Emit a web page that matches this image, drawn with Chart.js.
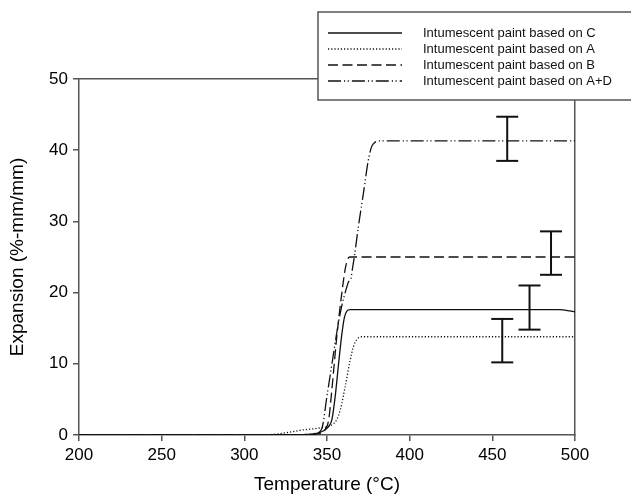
<!DOCTYPE html>
<html>
<head>
<meta charset="utf-8">
<script src="https://cdn.jsdelivr.net/npm/chart.js@4"></script>
<style>
  html, body { margin: 0; padding: 0; background: #fff; }
</style>
</head>
<body>
<canvas id="chart" width="631" height="494"></canvas>
<script>
const seriesLabels = [
  'Intumescent paint based on C',
  'Intumescent paint based on A',
  'Intumescent paint based on B',
  'Intumescent paint based on A+D'
];

// temperature (°C) / expansion (%-mm/mm)
const tempC = [200, 300, 330, 343, 348, 351, 353, 355, 357, 359, 360.5, 362, 364, 480, 490, 500];
const expC  = [0, 0, 0.05, 0.2, 0.6, 1.2, 2.2, 5.5, 10, 14.2, 16.5, 17.4, 17.6, 17.6, 17.6, 17.3];

const tempA = [200, 300, 315, 325, 335, 346, 352, 356, 358, 361, 364, 366, 368, 371, 500];
const expA  = [0, 0, 0.05, 0.3, 0.7, 1.0, 1.3, 2.2, 3.5, 6.8, 10.5, 12.4, 13.4, 13.8, 13.8];

const tempB = [200, 330, 345, 349, 351, 353, 356, 359, 361, 362.5, 364, 500];
const expB  = [0, 0, 0.2, 0.8, 2.1, 6.5, 14, 20, 23.3, 24.7, 25, 25];

const tempAD = [200, 330, 344, 347, 350, 353, 356, 359, 361, 363, 364.5, 365.5, 366.5, 369, 372, 375, 377, 379, 382, 500];
const expAD  = [0, 0, 0.3, 1, 5.5, 10, 14.5, 18.2, 20, 21.5, 22, 23.5, 25, 29.3, 33.9, 38.6, 40.5, 41.1, 41.3, 41.3];

// error bars (A, A+D, C, B)
const errT  = [456, 459, 472.5, 485.5];
const errLo = [10.2, 38.5, 14.8, 22.5];
const errHi = [16.3, 44.7, 21.0, 28.6];

const xTicks = [200, 250, 300, 350, 400, 450, 500];
const yTicks = [0, 10, 20, 30, 40, 50];

const pts = (xs, ys) => xs.map((x, i) => ({ x: x, y: ys[i] }));
const axisCol = '#555';
const font = 'Liberation Sans, Arial, Helvetica, sans-serif';

const lineStyle = (label, data, dash) => ({
  type: 'line', label: label, data: data, borderColor: '#111', borderWidth: 1.3,
  borderDash: dash, pointRadius: 0, cubicInterpolationMode: 'monotone', fill: false, isSeries: true
});

const stems = [];
errT.forEach((t, i) => { stems.push({ x: t, y: errLo[i] }, { x: t, y: errHi[i] }, { x: t, y: null }); });
const caps = [];
errT.forEach((t, i) => { caps.push({ x: t, y: errLo[i] }, { x: t, y: errHi[i] }); });

// boxed legend drawn over the top-right corner
const boxLegend = {
  id: 'boxLegend',
  afterDraw(chart) {
    const ctx = chart.ctx;
    ctx.save();
    ctx.fillStyle = '#fff';
    ctx.fillRect(318, 12, 330, 88);
    ctx.strokeStyle = axisCol; ctx.lineWidth = 1.5;
    ctx.strokeRect(318, 12, 330, 88);
    const sets = chart.data.datasets.filter(d => d.isSeries);
    sets.forEach((d, i) => {
      const y = 33 + i * 16;
      ctx.strokeStyle = '#111'; ctx.lineWidth = d.borderWidth;
      ctx.setLineDash(d.borderDash || []);
      ctx.beginPath(); ctx.moveTo(328, y); ctx.lineTo(402, y); ctx.stroke();
      ctx.setLineDash([]);
      ctx.fillStyle = '#111'; ctx.font = '13px ' + font;
      ctx.textBaseline = 'middle'; ctx.textAlign = 'left';
      ctx.fillText(d.label, 423, y);
    });
    ctx.restore();
  }
};

new Chart(document.getElementById('chart'), {
  type: 'line',
  data: {
    datasets: [
      lineStyle(seriesLabels[0], pts(tempC, expC), []),
      lineStyle(seriesLabels[1], pts(tempA, expA), [1.2, 2]),
      lineStyle(seriesLabels[2], pts(tempB, expB), [10, 4.5]),
      lineStyle(seriesLabels[3], pts(tempAD, expAD), [13, 3, 1.2, 2.5, 1.2, 3]),
      { type: 'line', data: stems, borderColor: '#111', borderWidth: 2, pointRadius: 0, spanGaps: false },
      { type: 'scatter', data: caps, pointStyle: 'line', pointRadius: 11, borderColor: '#111', borderWidth: 2 }
    ]
  },
  options: {
    responsive: false, animation: false,
    layout: { padding: { top: 79, right: 56, left: 0, bottom: 0 } },
    plugins: { legend: { display: false }, tooltip: { enabled: false } },
    scales: {
      x: {
        type: 'linear', position: 'bottom', min: 200, max: 500,
        afterBuildTicks: s => { s.ticks = xTicks.map(v => ({ value: v })); },
        afterFit: s => { s.height = 59; },
        ticks: { color: '#000', font: { family: font, size: 17 }, padding: 4 },
        grid: { drawOnChartArea: false, tickLength: 6, color: axisCol, lineWidth: 1.5 },
        border: { color: axisCol, width: 1.5 },
        title: { display: true, text: 'Temperature (°C)', color: '#000', font: { family: font, size: 19, lineHeight: 1 }, padding: { top: 0, bottom: 0 } }
      },
      y: {
        type: 'linear', position: 'left', min: 0, max: 50,
        afterBuildTicks: s => { s.ticks = yTicks.map(v => ({ value: v })); },
        afterFit: s => { s.width = 79; },
        ticks: { color: '#000', font: { family: font, size: 17 }, padding: 5 },
        grid: { drawOnChartArea: false, tickLength: 6, color: axisCol, lineWidth: 1.5 },
        border: { color: axisCol, width: 1.5 },
        title: { display: true, text: 'Expansion (%-mm/mm)', color: '#000', font: { family: font, size: 19, lineHeight: 1 }, padding: { top: 8, bottom: 0 } }
      },
      x2: {
        type: 'linear', position: 'top', min: 200, max: 500,
        ticks: { display: false }, afterFit: s => { s.height = 0; },
        grid: { drawOnChartArea: false, drawTicks: false },
        border: { color: axisCol, width: 1.5 }
      },
      y2: {
        type: 'linear', position: 'right', min: 0, max: 50,
        ticks: { display: false }, afterFit: s => { s.width = 0; },
        grid: { drawOnChartArea: false, drawTicks: false },
        border: { color: axisCol, width: 1.5 }
      }
    }
  },
  plugins: [boxLegend]
});
</script>
</body>
</html>
